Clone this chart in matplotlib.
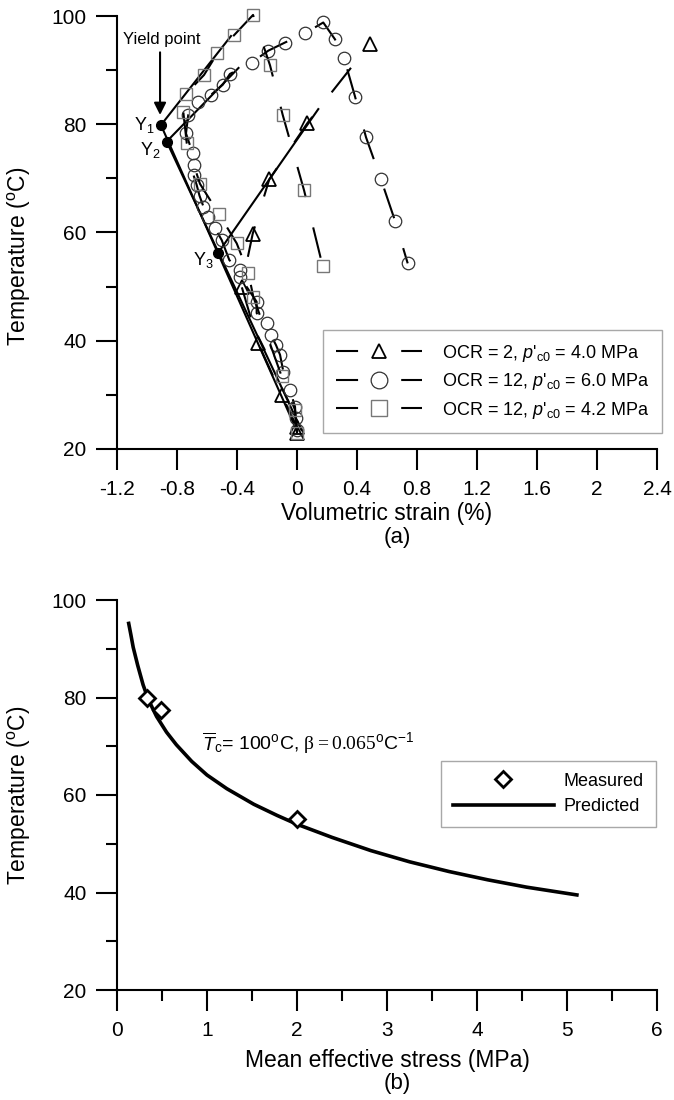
import matplotlib
matplotlib.use("Agg")
import matplotlib.pyplot as plt
from matplotlib.lines import Line2D

plt.rcParams['font.family'] = ['Liberation Sans', 'DejaVu Sans']
plt.rcParams['mathtext.fontset'] = 'custom'
plt.rcParams['mathtext.rm'] = 'Liberation Sans'
plt.rcParams['mathtext.it'] = 'Liberation Sans:italic'
plt.rcParams['mathtext.sf'] = 'Liberation Serif'

# ---- (a) temperature vs volumetric strain ----
# OCR = 2, p'c0 = 4.0 MPa
tri_strain = [0.0, 0.0, -0.102, -0.258, -0.369, -0.295, -0.185, 0.069, 0.487]
tri_temp = [23.0, 24.0, 30.0, 39.5, 50.0, 59.8, 69.8, 80.2, 94.9]

# OCR = 12, p'c0 = 6.0 MPa
circ_strain = [-0.002, -0.01, -0.013, -0.047, -0.091, -0.113, -0.14, -0.175, -0.198,
               -0.269, -0.269, -0.38, -0.38, -0.451, -0.502, -0.547, -0.591, -0.624,
               -0.65, -0.669, -0.69, -0.69, -0.695, -0.74, -0.725, -0.658, -0.575,
               -0.495, -0.447, -0.302, -0.191, -0.08, 0.053, 0.175, 0.253, 0.313,
               0.387, 0.46, 0.56, 0.653, 0.738]
circ_temp = [23.5, 25.8, 27.8, 30.9, 34.3, 37.4, 39.2, 41.1, 43.2,
             45.1, 47.2, 51.8, 53.1, 54.9, 58.6, 60.8, 62.9, 64.8,
             66.8, 68.8, 70.6, 72.5, 74.6, 78.3, 81.7, 84.2, 85.4,
             87.3, 89.3, 91.4, 93.6, 95.1, 96.8, 98.8, 95.7, 92.3,
             85.1, 77.6, 69.8, 62.2, 54.3]

# OCR = 12, p'c0 = 4.2 MPa
sq_strain = [0.0, -0.013, -0.102, -0.291, -0.324, -0.402, -0.52, -0.647, -0.735,
             -0.758, -0.74, -0.62, -0.531, -0.418, -0.293, -0.18, -0.095, 0.047, 0.171]
sq_temp = [22.9, 27.2, 33.4, 48.1, 52.5, 58.0, 63.4, 69.0, 76.5,
           82.3, 85.6, 89.1, 93.1, 96.5, 100.2, 90.9, 81.7, 67.8, 53.8]

# yield points Y1, Y2, Y3
yield_strain = [-0.907, -0.869, -0.524]
yield_temp = [79.85, 76.8, 56.3]

# straight construction lines (start, end)
guide_lines = [
    ((-0.907, 79.85), (-0.44, 96.3)),
    ((-0.869, 76.8), (-0.39, 90.4)),
    ((-0.907, 79.85), (0.0, 23.3)),
    ((-0.869, 76.8), (0.03, 23.5)),
    ((-0.524, 56.3), (0.142, 82.8)),
]

xticks_a = [-1.2, -0.8, -0.4, 0, 0.4, 0.8, 1.2, 1.6, 2.0, 2.4]
xtick_labels_a = ['-1.2', '-0.8', '-0.4', '0', '0.4', '0.8', '1.2', '1.6', '2', '2.4']
yticks = [20, 40, 60, 80, 100]

# ---- (b) yield temperature vs mean effective stress ----
meas_p = [0.33, 0.49, 2.0]
meas_temp = [80.0, 77.5, 55.0]

pred_p = [0.13, 0.155, 0.18, 0.23, 0.29, 0.35, 0.44, 0.55, 0.66, 0.83, 1.0, 1.22,
          1.52, 1.78, 2.0, 2.39, 2.82, 3.25, 3.69, 4.12, 4.55, 5.11]
pred_temp = [95.2, 92.8, 90.3, 86.6, 82.6, 79.5, 76.1, 72.9, 70.3, 66.9, 64.1, 61.3,
             58.1, 55.8, 54.0, 51.3, 48.6, 46.3, 44.3, 42.6, 41.1, 39.5]


fig = plt.figure(figsize=(6.74, 11), dpi=100)
ax1 = fig.add_axes([117 / 674, 1 - 449 / 1100, 540 / 674, 433 / 1100])
ax2 = fig.add_axes([117 / 674, 1 - 990 / 1100, 540 / 674, 390 / 1100])

dash = (0, (15, 15))

for (x0, y0), (x1, y1) in guide_lines:
    ax1.plot([x0, x1], [y0, y1], color='k', lw=1.5, zorder=3)

ax1.plot(tri_strain, tri_temp, color='k', lw=1.5, ls=dash, marker='^', ms=10,
         mfc='none', mec='k', mew=1.3, clip_on=False, zorder=4)
ax1.plot(circ_strain, circ_temp, color='k', lw=1.5, ls=dash, marker='o', ms=9,
         mfc='none', mec='#333333', mew=0.9, clip_on=False, zorder=4)
ax1.plot(sq_strain, sq_temp, color='k', lw=1.5, ls=dash, marker='s', ms=9,
         mfc='none', mec='#777777', mew=1.0, clip_on=False, zorder=4)
ax1.plot(yield_strain, yield_temp, 'o', color='k', ms=7, zorder=5)

ax1.annotate('', xy=(-0.913, 81.2), xytext=(-0.913, 93.8),
             arrowprops=dict(arrowstyle='-|>', color='k', lw=1.5, mutation_scale=18))
ax1.text(-1.16, 95.6, 'Yield point', fontsize=12, ha='left', va='center')
ax1.text(-0.95, 78.9, 'Y$_1$', fontsize=13, ha='right', va='baseline')
ax1.text(-0.91, 74.3, 'Y$_2$', fontsize=13, ha='right', va='baseline')
ax1.text(-0.555, 54.0, 'Y$_3$', fontsize=13, ha='right', va='baseline')

leg_dash = (0, (10.6, 20.7))
handles_a = [
    Line2D([], [], color='k', lw=1.5, ls=leg_dash, marker='^', ms=10, mfc='none', mec='k', mew=1.3),
    Line2D([], [], color='k', lw=1.5, ls=leg_dash, marker='o', ms=12, mfc='none', mec='#333333', mew=0.9),
    Line2D([], [], color='k', lw=1.5, ls=leg_dash, marker='s', ms=12, mfc='none', mec='#777777', mew=1.0),
]
labels_a = ["OCR = 2, $p$'$_{\\rm c0}$ = 4.0 MPa",
            "OCR = 12, $p$'$_{\\rm c0}$ = 6.0 MPa",
            "OCR = 12, $p$'$_{\\rm c0}$ = 4.2 MPa"]
leg1 = ax1.legend(handles_a, labels_a, loc='upper left', bbox_to_anchor=(0.3815, 0.2748),
                  borderaxespad=0, fontsize=13, handlelength=4.8, handletextpad=1.1,
                  borderpad=0.7, labelspacing=0.42, fancybox=False, framealpha=1)
leg1.get_frame().set_edgecolor('#a8a8a8')
leg1.get_frame().set_linewidth(1.0)

ax1.set_xlim(-1.2, 2.4)
ax1.set_ylim(20, 100)
ax1.set_xticks(xticks_a)
ax1.set_xticklabels(xtick_labels_a)
ax1.set_yticks(yticks)
ax1.set_yticks([30, 50, 70, 90], minor=True)
ax1.set_xlabel('Volumetric strain (%)', fontsize=16.5)
ax1.set_ylabel(r'Temperature ($^{\rm o}$C)', fontsize=16.5)
ax1.xaxis.set_label_coords(0.5, -0.122)
ax1.yaxis.set_label_coords(-0.156, 0.446)

# ---- (b) ----
ax2.plot(pred_p, pred_temp, color='k', lw=2.6, zorder=3)
ax2.plot(meas_p, meas_temp, 'D', ms=8, mfc='white', mec='k', mew=2.0, zorder=4)
ax2.text(0.94, 69.2,
         r"$\overline{T}_{\rm c}$= 100$^{\rm o}$C, $\mathsf{\beta = 0.065}$$^{\rm o}$C$^{-1}$",
         fontsize=14, ha='left', va='baseline')

handles_b = [
    Line2D([], [], ls='none', marker='D', ms=8, mfc='white', mec='k', mew=2.0),
    Line2D([], [], color='k', lw=2.6),
]
leg2 = ax2.legend(handles_b, ['Measured', 'Predicted'], loc='upper left',
                  bbox_to_anchor=(0.6, 0.587), borderaxespad=0, fontsize=13,
                  handlelength=5.6, handletextpad=0.55, borderpad=0.65,
                  labelspacing=0.45, fancybox=False, framealpha=1)
leg2.get_frame().set_edgecolor('#a8a8a8')
leg2.get_frame().set_linewidth(1.0)

ax2.set_xlim(0, 6)
ax2.set_ylim(20, 100)
ax2.set_xticks(range(0, 7))
ax2.set_xticks([0.5, 1.5, 2.5, 3.5, 4.5, 5.5], minor=True)
ax2.set_yticks(yticks)
ax2.set_yticks([30, 50, 70, 90], minor=True)
ax2.set_xlabel('Mean effective stress (MPa)', fontsize=16.5)
ax2.set_ylabel(r'Temperature ($^{\rm o}$C)', fontsize=16.5)
ax2.xaxis.set_label_coords(0.5, -0.15)
ax2.yaxis.set_label_coords(-0.156, 0.5)

for ax in (ax1, ax2):
    for side in ('top', 'right'):
        ax.spines[side].set_visible(False)
    for side in ('left', 'bottom'):
        ax.spines[side].set_linewidth(1.5)
    ax.tick_params(which='major', direction='out', length=15, width=1.5,
                   labelsize=15, pad=7)
    ax.tick_params(which='minor', direction='out', length=8, width=1.5)

fig.text(397 / 674, 1 - 537 / 1100, '(a)', fontsize=16, ha='center', va='center')
fig.text(397 / 674, 1 - 1083 / 1100, '(b)', fontsize=16, ha='center', va='center')

fig.savefig('out.png', dpi=100)
